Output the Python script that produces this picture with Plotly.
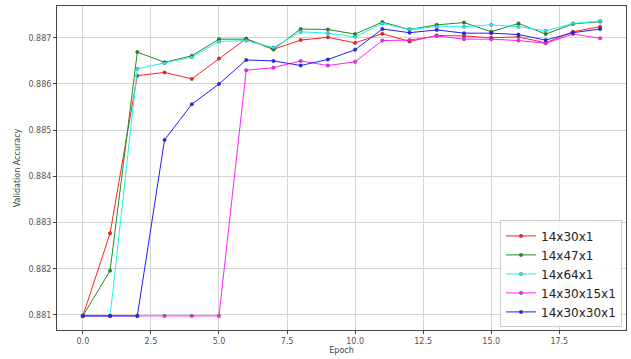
import plotly.graph_objects as go

# Validation accuracy per epoch for each network layout
epochs = list(range(20))

acc_14x30x1 = [0.88098, 0.88277, 0.88618, 0.88625, 0.88611, 0.88655, 0.88698, 0.88675,
               0.88695, 0.88701, 0.88689, 0.88709, 0.88692, 0.88705, 0.88704, 0.88700,
               0.88702, 0.88689, 0.88713, 0.88724]
acc_14x47x1 = [0.88098, 0.88196, 0.88669, 0.88647, 0.88661, 0.88697, 0.88697, 0.88675,
               0.88719, 0.88718, 0.88708, 0.88734, 0.88718, 0.88728, 0.88733, 0.88713,
               0.88731, 0.88708, 0.88730, 0.88735]
acc_14x64x1 = [0.88098, 0.88098, 0.88633, 0.88645, 0.88658, 0.88692, 0.88694, 0.88679,
               0.88713, 0.88710, 0.88702, 0.88731, 0.88718, 0.88724, 0.88724, 0.88728,
               0.88724, 0.88715, 0.88731, 0.88736]
acc_14x30x15x1 = [0.88098, 0.88098, 0.88098, 0.88098, 0.88098, 0.88098, 0.88630, 0.88635,
                  0.88650, 0.88640, 0.88648, 0.88694, 0.88695, 0.88704, 0.88697, 0.88697,
                  0.88694, 0.88688, 0.88708, 0.88699]
acc_14x30x30x1 = [0.88098, 0.88098, 0.88098, 0.88479, 0.88556, 0.88600, 0.88652, 0.88650,
                  0.88640, 0.88653, 0.88674, 0.88719, 0.88711, 0.88717, 0.88710, 0.88710,
                  0.88707, 0.88695, 0.88711, 0.88719]

series = [
    ("14x30x1", acc_14x30x1, "#ff2020"),
    ("14x47x1", acc_14x47x1, "#1f8f1f"),
    ("14x64x1", acc_14x64x1, "#20f0f0"),
    ("14x30x15x1", acc_14x30x15x1, "#ff20ff"),
    ("14x30x30x1", acc_14x30x30x1, "#1f1fff"),
]

y_ticks = [0.881, 0.882, 0.883, 0.884, 0.885, 0.886, 0.887]
x_ticks = [0.0, 2.5, 5.0, 7.5, 10.0, 12.5, 15.0, 17.5]

fig = go.Figure()
for name, values, color in series:
    fig.add_trace(go.Scatter(
        x=epochs, y=values, name=name, mode="lines+markers",
        line=dict(color=color, width=1),
        marker=dict(color=color, size=3.5, line=dict(color="rgba(40,40,40,0.6)", width=0.5)),
    ))

axis_common = dict(
    showline=True, linecolor="#444444", linewidth=1, mirror=True,
    showgrid=True, gridcolor="#d4d4d4", gridwidth=1, zeroline=False,
    ticks="outside", ticklen=3, tickcolor="#444444",
    tickfont=dict(family="DejaVu Sans", size=8, color="#555555"),
)

fig.update_layout(
    width=631, height=359,
    margin=dict(l=57, r=5, t=6, b=29),
    paper_bgcolor="white", plot_bgcolor="white",
    font=dict(family="DejaVu Sans", color="#444444"),
    xaxis=dict(range=[-0.95, 19.95], tickvals=x_ticks,
               ticktext=[f"{v:.1f}" for v in x_ticks],
               title=dict(text="Epoch", font=dict(size=8), standoff=2),
               **axis_common),
    yaxis=dict(range=[0.880675, 0.887688], tickvals=y_ticks,
               ticktext=[f"{v:.3f}" for v in y_ticks],
               title=dict(text="Validation Accuracy", font=dict(size=8), standoff=6),
               **axis_common),
    legend=dict(x=0.993, y=0.008, xanchor="right", yanchor="bottom",
                bgcolor="rgba(255,255,255,0.85)", bordercolor="#cccccc", borderwidth=1,
                font=dict(family="DejaVu Sans", size=12, color="#222222"),
                tracegroupgap=0, itemwidth=30),
    showlegend=True,
)

fig.write_html("out.html")
